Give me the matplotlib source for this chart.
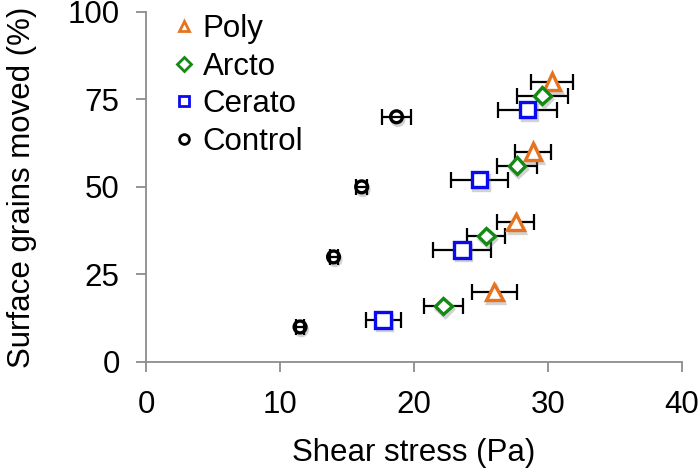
#! /usr/bin/env python3
import matplotlib
matplotlib.use('Agg')
import matplotlib.pyplot as plt
import matplotlib.patheffects as pe

plt.rcParams['font.family'] = ['Liberation Sans', 'DejaVu Sans']

# shear stress (Pa), percent of grains moved, and x error
poly_x = [26.0, 27.6, 28.9, 30.3]
poly_y = [20, 40, 60, 80]
poly_err = [1.7, 1.4, 1.35, 1.55]

arcto_x = [22.2, 25.4, 27.7, 29.6]
arcto_y = [16, 36, 56, 76]
arcto_err = [1.45, 1.4, 1.5, 1.9]

cerato_x = [17.7, 23.6, 24.9, 28.5]
cerato_y = [12, 32, 52, 72]
cerato_err = [1.3, 2.15, 2.15, 2.2]

control_x = [11.5, 14.0, 16.1, 18.7]
control_y = [10, 30, 50, 70]
control_err = [0.3, 0.3, 0.4, 1.05]

xticks = [0, 10, 20, 30, 40]
yticks = [0, 25, 50, 75, 100]


def main():
    fig = plt.figure(figsize=(7, 4.68), dpi=100)
    ax = fig.add_axes([0.2086, 0.2265, 0.7654, 0.7485])

    shadow = [pe.SimpleLineShadow(offset=(1, -2), shadow_color='gray', alpha=0.35),
              pe.Normal()]

    # data, marker, colour, name, size, error bars over the marker?
    series = [
        (poly_x, poly_y, poly_err, '^', '#E8731F', 'Poly', 12, False),
        (arcto_x, arcto_y, arcto_err, 'D', '#138A13', 'Arcto', 8.5, False),
        (cerato_x, cerato_y, cerato_err, 's', '#0A0AF0', 'Cerato', 11, False),
        (control_x, control_y, control_err, 'o', 'black', 'Control', 8.5, True),
    ]
    handles = []
    for x, y, err, mk, col, name, ms, on_top in series:
        ax.errorbar(x, y, xerr=err, fmt='none', ecolor='black', elinewidth=1.6,
                    capsize=6, capthick=1.6, zorder=4 if on_top else 2)
        ln, = ax.plot(x, y, linestyle='none', marker=mk, markersize=ms,
                      markerfacecolor='white', markeredgecolor=col,
                      markeredgewidth=2.4, zorder=3, label=name)
        ln.set_path_effects(shadow)
        handles.append(ln)

    ax.set_xlim(0, 40)
    ax.set_ylim(0, 100)
    ax.set_xticks(xticks)
    ax.set_yticks(yticks)
    ax.tick_params(axis='both', labelsize=22.5, color='#8c8c8c', length=7,
                   width=1.3, direction='out')
    ax.tick_params(axis='x', pad=13)
    ax.tick_params(axis='y', pad=12)
    for s in ['top', 'right']:
        ax.spines[s].set_visible(False)
    for s in ['left', 'bottom']:
        ax.spines[s].set_color('#8c8c8c')
        ax.spines[s].set_linewidth(1.3)

    ax.set_xlabel('Shear stress (Pa)', fontsize=22.5, labelpad=13)
    ax.set_ylabel('Surface grains moved (%)', fontsize=22.5, labelpad=22)

    leg = ax.legend(handles=handles, loc='upper left', bbox_to_anchor=(0.03, 1.03),
                    frameon=False, fontsize=22.5, handlelength=0.6,
                    handletextpad=0.3, labelspacing=0.25, borderaxespad=0)
    for h in leg.legend_handles:
        h.set_markersize(7)
        h.set_markeredgewidth(2)
        h.set_path_effects([])

    fig.savefig('out.png', dpi=100)


if __name__ == '__main__':
    main()
